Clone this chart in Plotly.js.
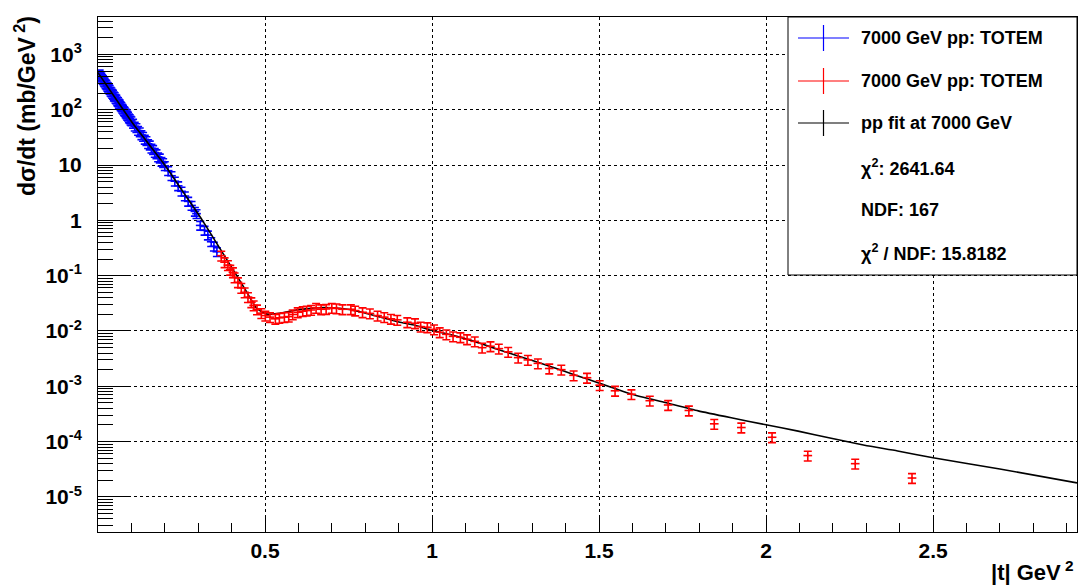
<!DOCTYPE html>
<html>
<head>
<meta charset="utf-8">
<script src="https://cdn.plot.ly/plotly-3.0.1.min.js"></script>
<style>html,body{margin:0;padding:0;background:#fff;}#chart{width:1090px;height:587px;}</style>
</head>
<body>
<div id="chart"></div>
<script>
// ---- data ----
const blueT = [0.005,0.0075,0.010,0.0125,0.015,0.0175,0.020,0.0225,0.025,0.0275,0.030,0.0325,0.035,0.0375,0.040,0.0425,0.045,0.0475,0.050,0.0525,0.055,0.0575,0.060,0.0625,0.065,0.0675,0.070,0.0725,0.075,0.0775,0.080,0.0825,0.085,0.0875,0.090,0.0925,0.095,0.0975,0.100,0.105,0.110,0.115,0.120,0.125,0.130,0.135,0.140,0.145,0.150,0.155,0.160,0.165,0.170,0.175,0.180,0.185,0.190,0.195,0.200,0.210,0.220,0.230,0.240,0.250,0.260,0.270,0.280,0.290,0.295,0.306,0.319,0.329,0.339,0.347,0.356];
const blueY = [440,405,385,362,347,326,313,294,284,266,256,240,232,216,209,196,189,176,171,159,154,144,139,130,126,118,113,106,102,96,93,87,84,79,76,71,68.8,64.5,62.3,56.5,50.2,47.3,42,39.5,35,32.8,29.1,27.4,24.2,22.9,20.1,19.0,16.8,15.9,14.0,13.3,11.6,11.0,9.7,7.9,6.4,5.1,4.2,3.35,2.75,2.2,1.86,1.45,1.32,0.81,0.66,0.54,0.41,0.34,0.27];

const redT = [0.369,0.379,0.389,0.396,0.404,0.409,0.419,0.429,0.439,0.449,0.459,0.466,0.476,0.489,0.501,0.515,0.531,0.543,0.558,0.571,0.583,0.598,0.613,0.625,0.638,0.653,0.668,0.683,0.700,0.714,0.732,0.757,0.770,0.792,0.814,0.837,0.857,0.877,0.896,0.926,0.949,0.966,0.986,1.006,1.023,1.043,1.063,1.085,1.105,1.128,1.150,1.175,1.200,1.228,1.258,1.287,1.317,1.351,1.387,1.424,1.464,1.502,1.548,1.597,1.652,1.707,1.769,1.845,1.926,2.018,2.125,2.267,2.437];
const redY = [0.23,0.175,0.155,0.128,0.115,0.093,0.076,0.060,0.050,0.041,0.033,0.029,0.0245,0.021,0.019,0.0178,0.0166,0.0173,0.0178,0.0182,0.0199,0.0218,0.0228,0.0234,0.024,0.0262,0.0247,0.025,0.0262,0.0256,0.0247,0.0247,0.0234,0.0218,0.0208,0.019,0.0178,0.0166,0.0159,0.0144,0.0138,0.012,0.0117,0.0107,0.0095,0.0087,0.0080,0.0077,0.0071,0.0065,0.0050,0.0053,0.0048,0.0042,0.0033,0.0030,0.0026,0.0021,0.0020,0.00158,0.00143,0.00105,0.00083,0.00072,0.00055,0.00046,0.000366,0.00021,0.00018,0.00012,0.000056,0.000040,0.000022];

const fitT = [0,0.0757,0.105,0.15,0.2,0.25,0.3125,0.356,0.4,0.43,0.454,0.474,0.503,0.533,0.563,0.593,0.623,0.653,0.702,0.752,0.802,0.852,0.901,0.951,1.001,1.051,1.101,1.150,1.200,1.260,1.359,1.43,1.499,1.598,1.698,1.797,1.896,1.996,2.096,2.195,2.295,2.394,2.5,2.7,2.931];
const fitY = [468,100,55.8,24.7,10,3.59,1.0,0.38,0.141,0.072,0.041,0.026,0.0204,0.0204,0.0219,0.024,0.0251,0.0263,0.0263,0.0245,0.0209,0.0174,0.0145,0.0126,0.0102,0.0087,0.0072,0.0058,0.0046,0.0035,0.00224,0.00159,0.00115,0.00072,0.00051,0.00036,0.00027,0.000204,0.000155,0.000115,0.000086,0.000068,0.000051,0.000032,0.000018];

const xTickVals = [0.5,1,1.5,2,2.5];
const xTickText = ['0.5','1','1.5','2','2.5'];
const yTickVals = [1e-5,1e-4,1e-3,1e-2,1e-1,1,10,100,1000];
const yTickText = ['10<sup>-5</sup>','10<sup>-4</sup>','10<sup>-3</sup>','10<sup>-2</sup>','10<sup>-1</sup>','1','10','10<sup>2</sup>','10<sup>3</sup>'];

const seriesNames = ['7000 GeV pp: TOTEM','7000 GeV pp: TOTEM','pp fit at 7000 GeV'];
const seriesColors = ['#0000ff','#ff0000','#000000'];
const statLines = ['χ<sup>2</sup>: 2641.64','NDF: 167','χ<sup>2</sup> / NDF: 15.8182'];

// ---- minor tick positions ----
const xMinor = [];
for (let i = 1; i < 30; i++) { const v = +(i * 0.1).toFixed(1); if (Math.abs(v * 2 - Math.round(v * 2)) > 1e-6) xMinor.push(v); }
const yMinor = [];
for (let e = -6; e <= 3; e++) for (let m = 2; m <= 9; m++) yMinor.push(m * Math.pow(10, e));

const FONT = 'Liberation Sans, Arial, Helvetica, sans-serif';

const traces = [
  {x: blueT, y: blueY, type: 'scatter', mode: 'markers', name: seriesNames[0],
   marker: {color: seriesColors[0], size: 2},
   error_y: {type: 'percent', value: 18, color: seriesColors[0], thickness: 1.6, width: 4},
   error_x: {type: 'constant', value: 0.013, color: seriesColors[0], thickness: 1.6, width: 0}},
  {x: fitT, y: fitY, type: 'scatter', mode: 'lines', name: seriesNames[2],
   line: {color: seriesColors[2], width: 1.6, shape: 'spline', smoothing: 0.5}},
  {x: redT, y: redY, type: 'scatter', mode: 'markers', name: seriesNames[1],
   marker: {color: seriesColors[1], size: 2},
   error_y: {type: 'percent', value: 20, color: seriesColors[1], thickness: 1.6, width: 4},
   error_x: {type: 'constant', value: 0.013, color: seriesColors[1], thickness: 1.6, width: 0}}
];

// pixel helpers for the hand-drawn ROOT style legend
const L = 98, R = 1077, T = 17, B = 532;
const px = v => (v - L) / (R - L);
const py = v => (B - v) / (B - T);

const shapes = [
  {type: 'rect', xref: 'paper', yref: 'paper', x0: px(788), x1: px(1077), y0: py(275), y1: py(17),
   line: {color: '#000', width: 1}, fillcolor: '#fff', layer: 'above'}
];
const rowsY = [38, 81, 123, 167, 210, 252];
seriesColors.forEach((c, i) => {
  const yy = rowsY[i];
  shapes.push({type: 'line', xref: 'paper', yref: 'paper', x0: px(798), x1: px(849), y0: py(yy), y1: py(yy), line: {color: c, width: 1.2}, layer: 'above'});
  shapes.push({type: 'line', xref: 'paper', yref: 'paper', x0: px(823.5), x1: px(823.5), y0: py(yy - 13), y1: py(yy + 13), line: {color: c, width: 1.2}, layer: 'above'});
});

const annotations = [];
seriesNames.forEach((n, i) => annotations.push({xref: 'paper', yref: 'paper', x: px(859), y: py(rowsY[i]), xanchor: 'left', yanchor: 'middle', text: n, showarrow: false, font: {family: FONT, size: 18, color: '#000', weight: 'bold'}}));
statLines.forEach((n, i) => annotations.push({xref: 'paper', yref: 'paper', x: px(859), y: py(rowsY[i + 3]), xanchor: 'left', yanchor: 'middle', text: n, showarrow: false, font: {family: FONT, size: 18, color: '#000', weight: 'bold'}}));
annotations.push({xref: 'paper', yref: 'paper', x: px(25), y: py(106), xanchor: 'center', yanchor: 'middle', textangle: -90,
  text: 'dσ/dt (mb/GeV<sup> 2</sup>)', showarrow: false, font: {family: FONT, size: 23, color: '#000', weight: 'bold'}});
annotations.push({xref: 'paper', yref: 'paper', x: px(1076), y: py(571), xanchor: 'right', yanchor: 'middle',
  text: '|t| GeV<sup> 2</sup>', showarrow: false, font: {family: FONT, size: 22, color: '#000', weight: 'bold'}});

const layout = {
  width: 1090, height: 587,
  margin: {l: L, r: 1090 - R, t: T, b: 587 - B},
  paper_bgcolor: '#fff', plot_bgcolor: '#fff',
  showlegend: false,
  font: {family: FONT, color: '#000'},
  xaxis: {
    range: [0, 2.931], tickmode: 'array', tickvals: xTickVals, ticktext: xTickText,
    ticks: 'inside', ticklen: 15, tickwidth: 1, tickcolor: '#000',
    showline: true, linecolor: '#000', linewidth: 1, mirror: true,
    showgrid: true, gridcolor: '#000', griddash: 'dot', gridwidth: 1, zeroline: false,
    tickfont: {family: FONT, size: 21, color: '#000', weight: 'bold'},
    ticklabelstandoff: 0,
    minor: {tickmode: 'array', tickvals: xMinor, ticks: 'inside', ticklen: 9, tickcolor: '#000', tickwidth: 1, showgrid: false}
  },
  yaxis: {
    type: 'log', range: [-5.633, 3.675], tickmode: 'array', tickvals: yTickVals, ticktext: yTickText,
    ticks: 'inside', ticklen: 30, tickwidth: 1, tickcolor: '#000',
    showline: true, linecolor: '#000', linewidth: 1, mirror: true,
    showgrid: true, gridcolor: '#000', griddash: 'dot', gridwidth: 1, zeroline: false,
    tickfont: {family: FONT, size: 21, color: '#000', weight: 'bold'},
    ticklabelstandoff: 11,
    minor: {tickmode: 'array', tickvals: yMinor, ticks: 'inside', ticklen: 15, tickcolor: '#000', tickwidth: 1, showgrid: false}
  },
  shapes: shapes,
  annotations: annotations
};

Plotly.newPlot('chart', traces, layout, {displayModeBar: false, staticPlot: true});
</script>
</body>
</html>
